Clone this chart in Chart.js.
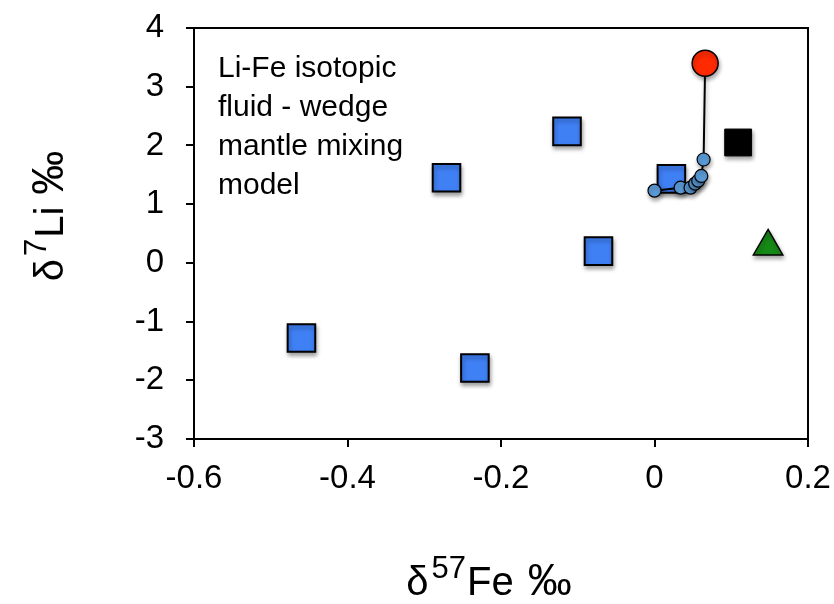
<!doctype html>
<html>
  <head>
    <meta charset="utf-8" />
    <title>Li-Fe isotopic mixing</title>
    <script src="https://cdn.jsdelivr.net/npm/chart.js@4.4.1/dist/chart.umd.min.js"></script>
    <style>
      html, body { margin: 0; padding: 0; background: #fff; }
      #wrap { width: 834px; height: 604px; }
    </style>
  </head>
  <body>
    <div id="wrap"><canvas id="myChart" width="834" height="604"></canvas></div>
    <script>
      // samples (blue squares)
      const sampleFe = [-0.460, -0.271, -0.234, -0.114, -0.073, 0.022];
      const sampleLi = [-1.28, 1.45, -1.79, 2.24, 0.20, 1.43];
      // fluid end member (red)
      const fluidFe = [0.066];
      const fluidLi = [3.40];
      // black square and green triangle
      const mantleFe = [0.109];
      const mantleLi = [2.05];
      const otherFe = [0.148];
      const otherLi = [0.28];
      // mixing model points
      const mixFe = [0.000, 0.034, 0.047, 0.053, 0.057, 0.061, 0.064];
      const mixLi = [1.23, 1.28, 1.28, 1.35, 1.40, 1.48, 1.76];

      const noteLines = ['Li-Fe isotopic', 'fluid - wedge', 'mantle mixing', 'model'];
      const xTicks = [-0.6, -0.4, -0.2, 0, 0.2];

      const pts = (xs, ys) => xs.map((x, i) => ({x: x, y: ys[i]}));
      const mixData = pts(mixFe, mixLi).concat(pts(fluidFe, fluidLi));

      const FONT = '"Liberation Sans", Arial, Helvetica, sans-serif';

      const shadow = {
        id: 'shadow',
        beforeDatasetDraw(chart) {
          const c = chart.ctx;
          c.save();
          c.shadowColor = 'rgba(0,0,0,0.35)';
          c.shadowBlur = 4;
          c.shadowOffsetX = 1;
          c.shadowOffsetY = 3;
        },
        afterDatasetDraw(chart) {
          chart.ctx.restore();
        }
      };

      // frame, annotation and axis titles with superscripts
      const extras = {
        id: 'extras',
        beforeDatasetsDraw(chart) {
          const c = chart.ctx, a = chart.chartArea;
          c.save();
          c.strokeStyle = '#000';
          c.lineWidth = 2;
          c.strokeRect(a.left, a.top, a.right - a.left, a.bottom - a.top);
          c.fillStyle = '#000';
          c.font = '30px ' + FONT;
          c.textBaseline = 'alphabetic';
          noteLines.forEach((t, i) => c.fillText(t, 218, 77 + i * 39));
          c.restore();
        },
        afterDraw(chart) {
          const c = chart.ctx;
          const title = (parts, cx, cy, rot) => {
            c.save();
            c.translate(cx, cy);
            c.rotate(rot);
            c.fillStyle = '#000';
            c.textBaseline = 'alphabetic';
            let w = 0;
            parts.forEach(p => { c.font = p.size + 'px ' + FONT; w += c.measureText(p.t).width + (p.gap || 0); });
            let x = -w / 2;
            parts.forEach(p => {
              c.font = p.size + 'px ' + FONT;
              c.fillText(p.t, x, -(p.up || 0));
              x += c.measureText(p.t).width + (p.gap || 0);
            });
            c.restore();
          };
          title([{t: 'δ', size: 40, gap: 3}, {t: '7', size: 31, up: 17, gap: 1}, {t: 'Li', size: 40, gap: 12}, {t: '‰', size: 44}], 63, 216, -Math.PI / 2);
          title([{t: 'δ', size: 40, gap: 3}, {t: '57', size: 31, up: 17, gap: 1}, {t: 'Fe', size: 40, gap: 14}, {t: '‰', size: 44}], 489, 595, 0);
        }
      };

      const config = {
        type: 'scatter',
        data: {
          datasets: [
            {
              label: 'fluid',
              data: pts(fluidFe, fluidLi),
              pointStyle: 'circle',
              pointRadius: 13,
              backgroundColor: '#ff2a00',
              borderColor: '#000',
              borderWidth: 1.5,
              order: 0,
            },
            {
              label: 'mixing',
              data: mixData,
              showLine: true,
              borderColor: '#000',
              borderWidth: 2,
              pointRadius: mixData.map((d, i) => i < mixFe.length ? 6.5 : 0),
              pointBackgroundColor: '#5b9bd8',
              pointBorderColor: '#000',
              pointBorderWidth: 1.2,
              order: 1,
            },
            {
              label: 'mantle',
              data: pts(mantleFe, mantleLi),
              pointStyle: 'rect',
              pointRadius: 19,
              backgroundColor: '#000',
              borderColor: '#000',
              borderWidth: 1,
              order: 2,
            },
            {
              label: 'other',
              data: pts(otherFe, otherLi),
              pointStyle: 'triangle',
              pointRadius: 17,
              backgroundColor: '#168a16',
              borderColor: '#000',
              borderWidth: 1.5,
              order: 2,
            },
            {
              label: 'samples',
              data: pts(sampleFe, sampleLi),
              pointStyle: 'rect',
              pointRadius: 19.5,
              backgroundColor: '#3f80f5',
              borderColor: '#000',
              borderWidth: 2,
              order: 3,
            },
          ]
        },
        options: {
          responsive: false,
          animation: false,
          events: [],
          layout: { padding: { left: 124, top: 28, right: 26, bottom: 115 } },
          plugins: { legend: { display: false }, tooltip: { enabled: false } },
          scales: {
            x: {
              type: 'linear',
              min: -0.6, max: 0.2,
              afterFit(s) { s.height = 50; s.paddingLeft = 0; s.paddingRight = 0; },
              afterBuildTicks(s) { s.ticks = xTicks.map(v => ({value: v})); },
              grid: { drawOnChartArea: false, drawTicks: true, tickLength: 8, color: '#000', lineWidth: 2 },
              border: { display: true, color: '#000', width: 2 },
              ticks: {
                color: '#000', font: { family: FONT, size: 33 }, padding: 12, maxRotation: 0,
                callback: v => String(Number(v.toFixed(1))),
              },
            },
            y: {
              type: 'linear',
              min: -3, max: 4,
              afterFit(s) { s.width = 70; s.paddingTop = 0; s.paddingBottom = 0; },
              grid: { drawOnChartArea: false, drawTicks: true, tickLength: 8, color: '#000', lineWidth: 2 },
              border: { display: true, color: '#000', width: 2 },
              ticks: {
                stepSize: 1, color: '#000', font: { family: FONT, size: 33 }, padding: 22,
                callback: v => String(v),
              },
            },
          }
        },
        plugins: [shadow, extras]
      };

      const myChart = new Chart(document.getElementById('myChart'), config);
    </script>
  </body>
</html>
